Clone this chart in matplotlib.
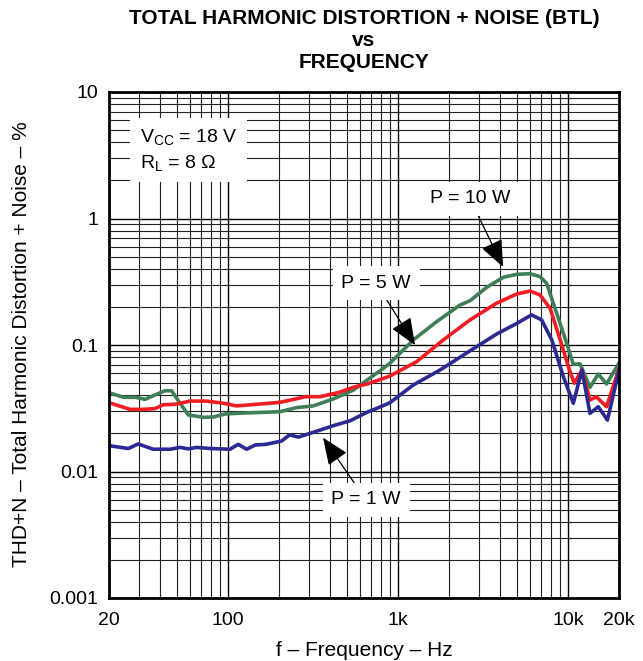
import matplotlib
matplotlib.use("Agg")
import matplotlib.pyplot as plt
from matplotlib.ticker import FixedLocator, LogLocator, NullFormatter

plt.rcParams['font.family'] = ['Liberation Sans', 'DejaVu Sans']

# ---- data ----
f_10w = [20, 24.3, 28.5, 32.6, 38.0, 42.7, 46.7, 52.4, 58.6, 71.9, 82.4, 96.5, 123, 168, 202,
         254, 318, 416, 547, 685, 792, 899, 1233, 1693, 2322, 2660, 3335, 4180, 5005, 5990,
         6860, 7510, 8600, 9850, 10770, 11800, 13500, 15100, 16900, 20000]
thd_10w = [0.042, 0.0386, 0.0386, 0.0372, 0.0407, 0.0435, 0.0435, 0.0346, 0.028, 0.0268, 0.027,
           0.0285, 0.029, 0.0294, 0.0297, 0.032, 0.033, 0.0374, 0.044, 0.0548, 0.063, 0.0717,
           0.1096, 0.153, 0.207, 0.224, 0.286, 0.343, 0.362, 0.366, 0.347, 0.307, 0.178, 0.103,
           0.0704, 0.071, 0.0463, 0.059, 0.0492, 0.072]

f_5w = [20, 26.6, 31.8, 37.2, 41.7, 48.9, 59.9, 75.3, 94.6, 112.7, 148, 202, 254, 288, 348,
        454, 547, 660, 792, 899, 1290, 1850, 2660, 3810, 5005, 5990, 6860, 7870, 9020, 10080,
        10900, 12100, 13500, 14700, 16900, 20000]
thd_5w = [0.035, 0.031, 0.031, 0.0314, 0.0337, 0.034, 0.036, 0.036, 0.0346, 0.033, 0.034,
          0.0352, 0.0376, 0.0391, 0.039, 0.0423, 0.0463, 0.0492, 0.0535, 0.0569, 0.0738,
          0.1096, 0.158, 0.214, 0.253, 0.267, 0.249, 0.195, 0.1096, 0.0674, 0.0498, 0.0634,
          0.0367, 0.039, 0.0325, 0.065]

f_1w = [20, 26, 29.7, 36.4, 45.7, 52.4, 58.6, 65.6, 78.6, 103, 115, 129, 145, 168, 207, 231,
        260, 318, 416, 525, 660, 792, 899, 1233, 1770, 2660, 3810, 5005, 6120, 7010, 8050,
        9410, 10770, 12100, 13500, 15100, 17100, 20000]
thd_1w = [0.016, 0.0152, 0.0165, 0.015, 0.015, 0.0155, 0.0151, 0.0155, 0.0152, 0.015, 0.0164,
          0.015, 0.0162, 0.0164, 0.0174, 0.0195, 0.0187, 0.0204, 0.023, 0.0252, 0.0294, 0.0325,
          0.035, 0.0483, 0.0634, 0.090, 0.122, 0.148, 0.173, 0.158, 0.1096, 0.0562, 0.0346,
          0.0634, 0.0288, 0.0325, 0.0255, 0.063]

x_ticks = [20, 100, 1000, 10000, 20000]
x_tick_labels = ["20", "100", "1k", "10k", "20k"]
y_ticks = [0.001, 0.01, 0.1, 1, 10]
y_tick_labels = ["0.001", "0.01", "0.1", "1", "10"]

# ---- figure ----
fig = plt.figure(figsize=(6.43, 6.61), dpi=100)
ax = fig.add_axes([109/643, (661-598)/661, 510/643, 506/661])
ax.set_xscale('log')
ax.set_yscale('log')
ax.set_xlim(20, 20000)
ax.set_ylim(0.001, 10)

ax.xaxis.set_major_locator(FixedLocator(x_ticks))
ax.xaxis.set_ticklabels(x_tick_labels)
ax.xaxis.set_minor_locator(LogLocator(base=10, subs=range(2, 10), numticks=20))
ax.xaxis.set_minor_formatter(NullFormatter())
ax.yaxis.set_major_locator(FixedLocator(y_ticks))
ax.yaxis.set_ticklabels(y_tick_labels)
ax.yaxis.set_minor_locator(LogLocator(base=10, subs=range(2, 10), numticks=20))
ax.yaxis.set_minor_formatter(NullFormatter())

ax.tick_params(which='both', length=0, labelsize=14, colors='black')
ax.tick_params(axis='x', pad=10)
ax.tick_params(axis='y', pad=8)
ax.grid(which='major', color='black', linewidth=1.0)
ax.grid(which='minor', color='#222222', linewidth=0.8)
ax.set_axisbelow(True)
for s in ax.spines.values():
    s.set_linewidth(2.0)
    s.set_color('black')
    s.set_zorder(5)

ax.plot(f_10w, thd_10w, color='#3f7f57', lw=2.6, zorder=3, solid_joinstyle='round')
ax.plot(f_5w, thd_5w, color='#f21c24', lw=2.6, zorder=3, solid_joinstyle='round')
ax.plot(f_1w, thd_1w, color='#2a2a92', lw=2.6, zorder=3, solid_joinstyle='round')

box = dict(boxstyle='square,pad=0.45', facecolor='white', edgecolor='none')
ax.text(0.06, 0.93, "$\\mathregular{V_{CC}}$ = 18 V\n$\\mathregular{R_L}$ = 8 Ω", transform=ax.transAxes,
        fontsize=14, va='top', ha='left', linespacing=1.35, zorder=4,
        bbox=dict(boxstyle='square,pad=0.5', facecolor='white', edgecolor='none'))

arrowprops = dict(arrowstyle='-|>,head_length=1.2,head_width=0.5', color='black', lw=0.9,
                  shrinkA=0, shrinkB=0)
ax.annotate("P = 10 W", xy=(4160, 0.414), xytext=(2660, 1.43), fontsize=14,
            ha='center', va='center', bbox=box, arrowprops=arrowprops, zorder=4)
ax.annotate("P = 5 W", xy=(1262, 0.100), xytext=(745, 0.309), fontsize=14,
            ha='center', va='center', bbox=box, arrowprops=arrowprops, zorder=4)
ax.annotate("P = 1 W", xy=(363, 0.0185), xytext=(650, 0.00596), fontsize=14,
            ha='center', va='center', bbox=box, arrowprops=arrowprops, zorder=4)

fig.text(364/643, 1 - 650/661, "f – Frequency – Hz", ha='center', va='center', fontsize=15)
fig.text(22/643, 1 - 344/661, "THD+N – Total Harmonic Distortion + Noise – %", ha='center',
         va='center', rotation=90, fontsize=15)

fig.text(364/643, 1 - 18/661, "TOTAL HARMONIC DISTORTION + NOISE (BTL)", ha='center', va='center',
         fontsize=15, fontweight='bold')
fig.text(364/643, 1 - 40/661, "vs", ha='center', va='center', fontsize=15, fontweight='bold')
fig.text(364/643, 1 - 62/661, "FREQUENCY", ha='center', va='center', fontsize=15, fontweight='bold')

fig.savefig("out.png", dpi=100)
